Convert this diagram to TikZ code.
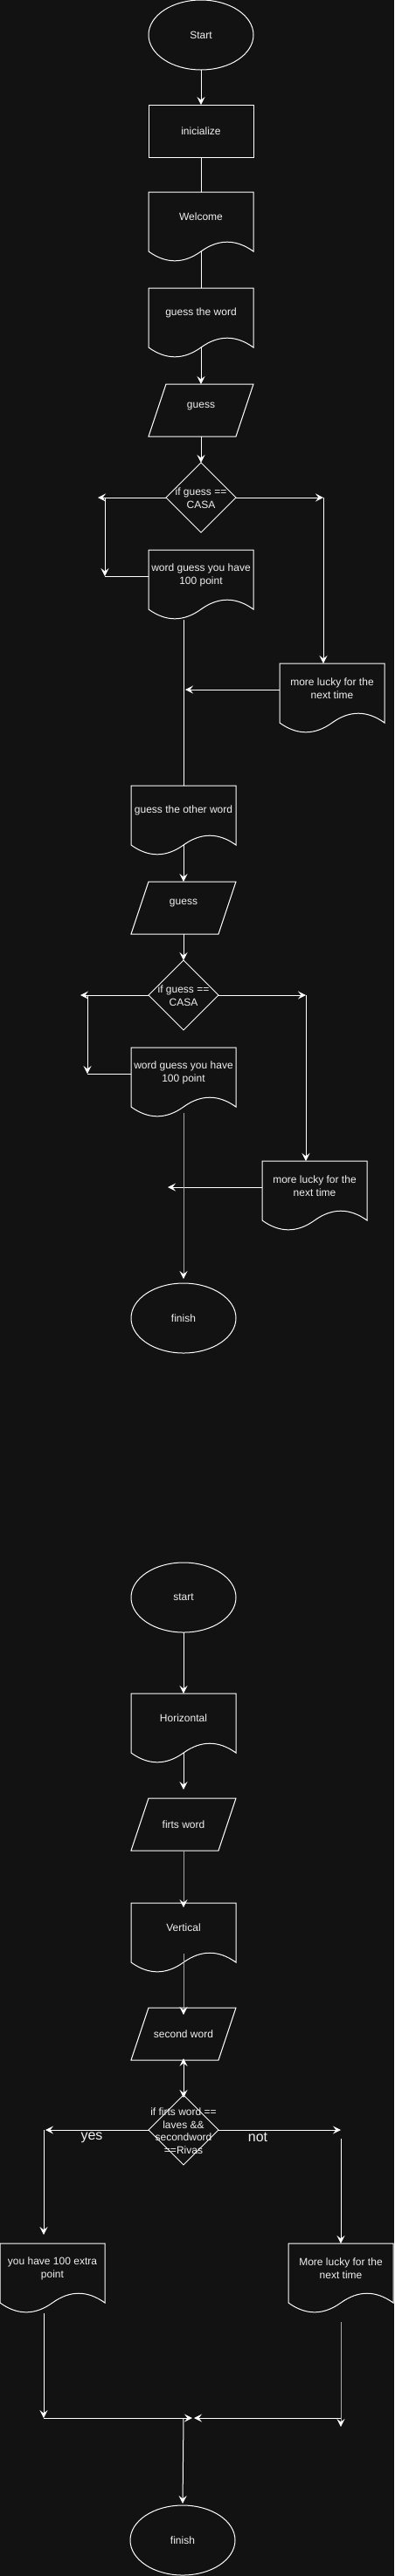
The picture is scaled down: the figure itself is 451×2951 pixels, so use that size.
\documentclass[tikz,border=0pt]{standalone}
\usepackage{fontspec}
\setmainfont{Liberation Sans}
\usetikzlibrary{shapes.geometric,arrows.meta,calc}
\definecolor{bg}{HTML}{121212}
\definecolor{ln}{HTML}{FFFFFF}
\definecolor{gln}{HTML}{A8A8A8}
\definecolor{tx}{HTML}{F0F0F0}
\newcommand\flfont{\fontsize{12}{15}\selectfont}
\newcommand\docoutline[1]{%
  \draw[shapeline] (#1.north west) -- (#1.north east) -- ($(#1.north east)+(0,68)$)
    .. controls ($(#1.north west)+(100,53.6)$) and ($(#1.north west)+(80,53.6)$) .. ($(#1.north west)+(60,68)$)
    .. controls ($(#1.north west)+(40,82.4)$) and ($(#1.north west)+(20,82.4)$) .. ($(#1.north west)+(0,68)$) -- cycle;
  \coordinate (#1-s) at ($(#1.north)+(0,68)$);}
\newcommand\paraoutline[1]{%
  \draw[shapeline] ($(#1.north west)+(20,0)$) -- (#1.north east) -- ($(#1.south east)+(-20,0)$) -- (#1.south west) -- cycle;}
\tikzset{
  shapeline/.style={draw=ln, line width=1pt},
  txt/.style={text=tx, font=\flfont, align=center, inner sep=0pt, outer sep=0pt},
  termnode/.style={ellipse, shapeline, minimum width=120pt, minimum height=80pt, inner sep=0pt, outer sep=0pt, txt},
  procnode/.style={rectangle, shapeline, minimum width=120pt, minimum height=60pt, inner sep=0pt, outer sep=0pt, txt},
  docnode/.style={rectangle, minimum width=120pt, minimum height=57pt, inner sep=0pt, outer sep=0pt, txt, anchor=north},
  paranode/.style={rectangle, minimum width=120pt, minimum height=60pt, inner sep=0pt, outer sep=0pt, txt},
  dianode/.style={diamond, shapeline, minimum width=80pt, minimum height=80pt, inner sep=0pt, outer sep=0pt, aspect=1},
  edgelbl/.style={text=tx, font=\fontsize{16}{19}\selectfont, inner sep=0pt},
  tipw/.tip={Stealth[length=9pt,width=9pt,inset=3.5pt,color=ln]},
  plain/.style={draw=ln, line width=1pt},
  arr/.style={draw=ln, line width=1pt, -tipw},
  garr/.style={draw=gln, line width=1pt, -tipw},
  gplain/.style={draw=gln, line width=1pt},
  darr/.style={draw=ln, line width=1pt, tipw-tipw},
}
\begin{document}
\begin{tikzpicture}[x=1pt,y=-1pt]
\fill[bg] (0,0) rectangle (451,2951);
\useasboundingbox (0,0) rectangle (451,2951);

% ---------- part 1 ----------
\node[termnode] (start) at (230,40) {Start};
\node[procnode] (init) at (230,150) {inicialize};
\node[docnode] (welc) at (230,220) {Welcome};
\docoutline{welc}
\node[docnode] (gw) at (230,330) {guess the word};
\docoutline{gw}
\node[paranode, text depth=12pt] (p1) at (230,470) {guess};
\paraoutline{p1}
\node[dianode] (d1) at (230,570) {};
\node[txt] (d1t) at (230,571) {if guess ==\\CASA};
\node[docnode] (wg1) at (230,630) {word guess you have\\100 point};
\docoutline{wg1}
\node[docnode] (ml1) at (380,760) {more lucky for the\\next time};
\docoutline{ml1}

\draw[arr] (start.south) -- (init.north);
\draw[plain] (init.south) -- (welc.north);
\draw[plain] (welc-s) -- (gw.north);
\draw[arr] (gw-s) -- (p1.north);
\draw[arr] (p1.south) -- (d1.north);
\coordinate (l1a) at (112,570);
\coordinate (l1b) at (120,570);
\coordinate (l1c) at (120,660);
\draw[arr] (d1.west) -- (l1a);
\draw[arr] (l1b) -- (l1c);
\draw[plain] (l1c -| wg1.west) -- (l1c);
\coordinate (r1a) at (370,570);
\draw[arr] (d1.east) -- (r1a);
\draw[arr] (r1a) -- (r1a |- ml1.north);
\coordinate (m1e) at (212,790);
\draw[arr] (m1e -| ml1.west) -- (m1e);
\coordinate (wg1b) at (210,710);

% ---------- part 2 ----------
\node[docnode] (g2) at (210,900) {guess the other word};
\docoutline{g2}
\draw[plain] (wg1b) -- (g2.north);
\node[paranode, text depth=13pt] (p2) at (210,1040) {guess};
\paraoutline{p2}
\node[dianode] (d2) at (210,1140) {};
\node[txt] (d2t) at (210,1141) {if guess ==\\CASA};
\node[docnode] (wg2) at (210,1200) {word guess you have\\100 point};
\docoutline{wg2}
\node[docnode] (ml2) at (360,1330) {more lucky for the\\next time};
\docoutline{ml2}
\node[termnode] (fin1) at (210,1510) {finish};

\draw[arr] (g2-s) -- (p2.north);
\draw[arr] (p2.south) -- (d2.north);
\coordinate (l2a) at (92,1140);
\coordinate (l2b) at (100,1140);
\coordinate (l2c) at (100,1230);
\draw[arr] (d2.west) -- (l2a);
\draw[arr] (l2b) -- (l2c);
\draw[plain] (l2c -| wg2.west) -- (l2c);
\coordinate (r2a) at (350,1140);
\draw[arr] (d2.east) -- (r2a);
\draw[arr] (r2a) -- (r2a |- ml2.north);
\coordinate (m2e) at (192,1360);
\draw[arr] (m2e -| ml2.west) -- (m2e);
\coordinate (wg2b) at (210,1275);
\draw[garr, shorten >=5pt] (wg2b) -- (fin1.north);

% ---------- part 3 ----------
\node[termnode] (st2) at (210,1830) {start};
\node[docnode] (hz) at (210,1940) {Horizontal};
\docoutline{hz}
\node[paranode] (p3) at (210,2090) {firts word};
\paraoutline{p3}
\node[docnode] (vt) at (210,2180) {Vertical};
\docoutline{vt}
\node[paranode] (p4) at (210,2330) {second word};
\paraoutline{p4}
\node[dianode] (d3) at (210,2440) {};
\node[txt, font=\fontsize{12}{14.5}\selectfont] (d3t) at (210,2441) {if firts word ==\\laves \&\&\\secondword\\==Rivas};
\node[docnode] (yh) at (60,2570) {you have 100 extra\\point};
\docoutline{yh}
\node[docnode] (ml3) at (390,2570) {More lucky for the\\next time};
\docoutline{ml3}
\node[termnode] (fin2) at (209,2910) {finish};

\draw[arr] (st2.south) -- (hz.north);
\draw[arr, shorten >=10pt] (hz-s) -- (p3.north);
\draw[garr, shorten >=-5pt] (p3.south) -- (vt.north);
\coordinate (vti) at (210,2238);
\draw[garr, shorten >=-8pt] (vti) -- (p4.north);
\draw[darr, shorten >=-3pt, shorten <=-2pt] (p4.south) -- (d3.north);

\coordinate (y3a) at (52,2440);
\coordinate (y3b) at (50,2440);
\coordinate (y3c) at (50,2560);
\draw[arr] (d3.west) -- (y3a);
\node[edgelbl] (yeslbl) at (105,2449) {yes};
\draw[arr] (y3b) -- (y3c);
\coordinate (n3a) at (390,2440);
\coordinate (n3b) at (390,2450);
\draw[arr] (d3.east) -- (n3a);
\node[edgelbl] (notlbl) at (295,2448) {not};
\draw[arr] (n3b) -- (ml3.north);

\coordinate (yhb) at (50,2650);
\coordinate (jl) at (50,2770);
\coordinate (jla) at (220,2770);
\draw[arr] (yhb) -- (jl);
\draw[arr] (jl) -- (jla);
\coordinate (mlb) at (390,2660);
\coordinate (jr) at (390,2780);
\coordinate (jrs) at (390,2770);
\coordinate (jra) at (222,2770);
\draw[garr] (mlb) -- (jr);
\draw[arr] (jrs) -- (jra);
\coordinate (jc) at (210,2770);
\draw[arr, shorten >=2pt] (jc) -- (fin2.north);
\end{tikzpicture}
\end{document}
